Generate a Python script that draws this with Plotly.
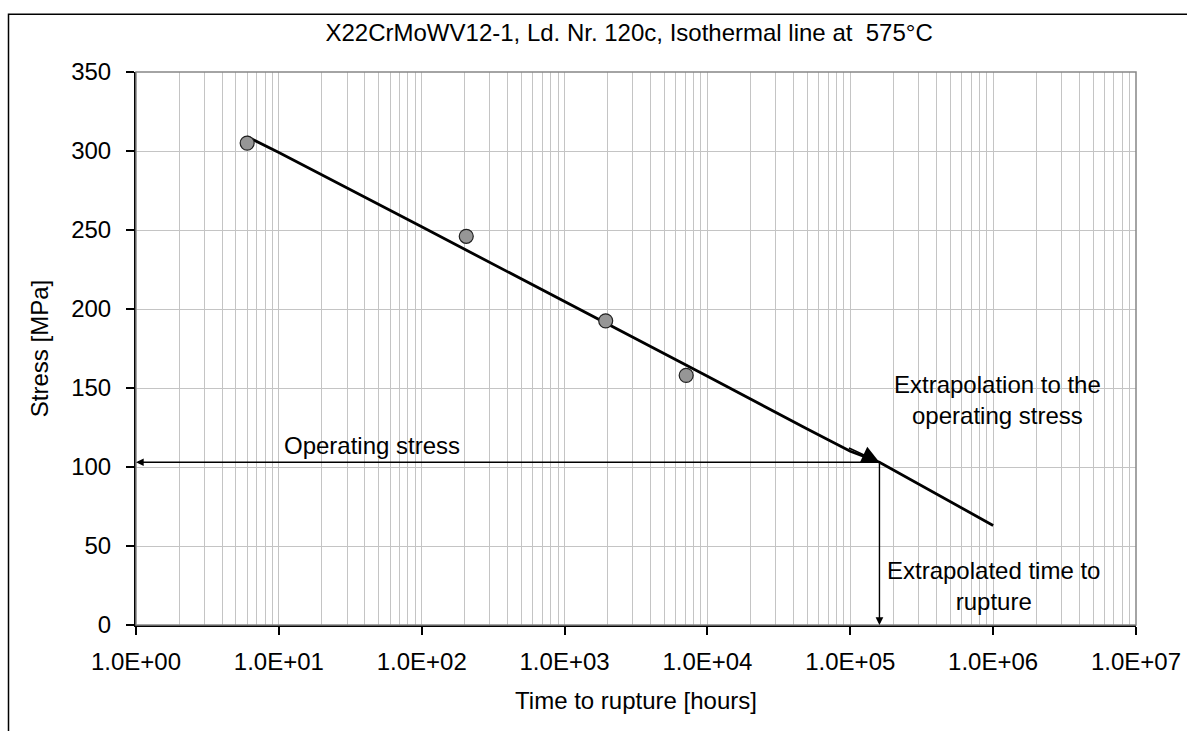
import math
import plotly.graph_objects as go

# Creep rupture test results at 575 °C
test_hours = [6, 205, 1940, 7100]
test_stress = [305, 246, 192.5, 158]

# Isothermal line through the tests, extrapolated to 1e6 h
line_hours = [6, 10, 100, 1000, 10000, 50000, 100000, 160000, 1000000]
line_stress = [309, 299, 252, 205, 157.5, 124, 110, 103, 63]

# Operating point
operating_stress = 103
rupture_hours = 160000

# Axis ticks
decades = [1, 10, 100, 1000, 10000, 100000, 1000000, 10000000]
decade_labels = ["1.0E+00", "1.0E+01", "1.0E+02", "1.0E+03",
                 "1.0E+04", "1.0E+05", "1.0E+06", "1.0E+07"]
minor_vals = [m * d for d in decades[:-1] for m in range(2, 10)]
stress_ticks = [0, 50, 100, 150, 200, 250, 300, 350]

FONT = "Liberation Sans, Arial, sans-serif"
FS = 24
GRID = "#c4c4c4"

fig = go.Figure()

fig.add_trace(go.Scatter(
    x=line_hours, y=line_stress, mode="lines",
    line=dict(color="black", width=2.8), hoverinfo="skip", showlegend=False))

fig.add_trace(go.Scatter(
    x=test_hours, y=test_stress, mode="markers",
    marker=dict(size=14, color="#969696", line=dict(color="#202020", width=1.2)),
    showlegend=False))

lx = math.log10(rupture_hours)

# Operating stress arrow to the stress axis
fig.add_annotation(x=0, y=operating_stress, ax=lx, ay=operating_stress,
                   xref="x", yref="y", axref="x", ayref="y", text="",
                   showarrow=True, arrowhead=2, arrowsize=1.1, arrowwidth=1.4,
                   arrowcolor="black", standoff=0)
# Extrapolated time arrow to the time axis
fig.add_annotation(x=lx, y=0, ax=lx, ay=operating_stress,
                   xref="x", yref="y", axref="x", ayref="y", text="",
                   showarrow=True, arrowhead=2, arrowsize=1.1, arrowwidth=1.4,
                   arrowcolor="black", standoff=0)
# Extrapolation along the isothermal line
fig.add_annotation(x=lx, y=operating_stress, ax=-32, ay=-15,
                   xref="x", yref="y", text="",
                   showarrow=True, arrowhead=2, arrowsize=2.2, arrowwidth=1.6,
                   arrowcolor="black", standoff=0)

text_font = dict(family=FONT, size=FS, color="black")
for tx, ty, txt in [
    (0.236, 0.324, "Operating stress"),
    (0.861, 0.406, "Extrapolation to the<br>operating stress"),
    (0.857, 0.071, "Extrapolated time to<br>rupture"),
]:
    fig.add_annotation(x=tx, y=ty, xref="x domain", yref="y domain", text=txt,
                       showarrow=False, xanchor="center", yanchor="middle",
                       align="center", font=text_font)

# Gray frame of the plot area, outer chart border
fig.add_shape(type="rect", xref="x domain", yref="y domain", x0=0, x1=1, y0=0, y1=1,
              line=dict(color="#868686", width=1.5), layer="above")
fig.add_shape(type="rect", xref="paper", yref="paper", x0=-0.1275, x1=1.2,
              y0=-0.3, y1=1.1045, line=dict(color="black", width=1.5))

fig.update_layout(
    width=1187, height=731,
    margin=dict(l=136, r=51, t=71.5, b=105.5),
    paper_bgcolor="white", plot_bgcolor="white",
    font=dict(family=FONT, size=FS, color="black"),
    title=dict(text="X22CrMoWV12-1, Ld. Nr. 120c, Isothermal line at \u00a0575°C",
               x=0.530, xanchor="center", y=0.955, yanchor="middle",
               font=dict(family=FONT, size=FS)),
    showlegend=False,
)

fig.update_xaxes(
    type="log", range=[0, 7], automargin=False,
    tickvals=decades, ticktext=decade_labels,
    ticks="outside", ticklen=8, tickwidth=1.5, tickcolor="black",
    showline=True, linecolor="black", linewidth=2,
    showgrid=True, gridcolor=GRID, gridwidth=1.3,
    minor=dict(tickvals=minor_vals, showgrid=True, gridcolor=GRID, gridwidth=1.3, ticks=""),
    ticklabelstandoff=6,
    title=dict(text="Time to rupture [hours]", standoff=18, font=dict(size=FS)),
    zeroline=False,
)
fig.update_yaxes(
    range=[0, 350], tickvals=stress_ticks, automargin=False,
    ticks="outside", ticklen=8, tickwidth=1.5, tickcolor="black",
    showline=True, linecolor="black", linewidth=2,
    showgrid=True, gridcolor=GRID, gridwidth=1.3,
    ticklabelstandoff=10,
    title=dict(text="Stress [MPa]", standoff=16, font=dict(size=FS)),
    zeroline=False,
)

fig.write_html("out.html")
